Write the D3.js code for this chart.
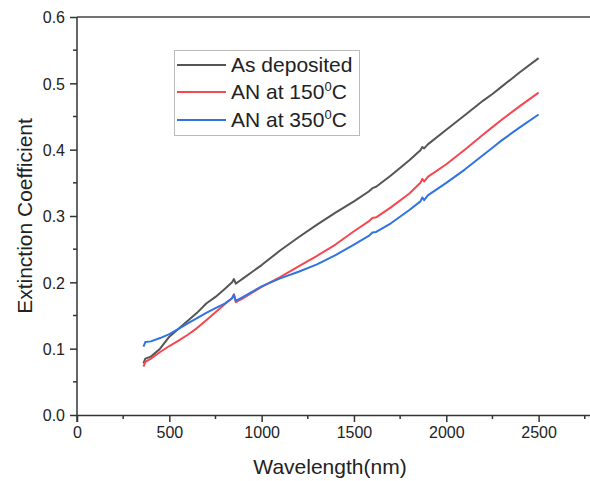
<!DOCTYPE html>
<html>
<head>
    <script src="https://cdnjs.cloudflare.com/ajax/libs/d3/7.8.5/d3.min.js"></script>
    <style>
        body { margin: 0; background: #fff; }
        svg text { font-family: "Liberation Sans", Arial, sans-serif; fill: #222; }
    </style>
</head>
<body>
<script>
// wavelength samples (nm)
const wavelengths = [360, 370, 400, 450, 500, 550, 600, 650, 700, 750, 800, 840, 850, 860, 880, 900,
    1000, 1100, 1200, 1300, 1400, 1500, 1580, 1600, 1620, 1700, 1800, 1860, 1870, 1880, 1900,
    2000, 2100, 2200, 2250, 2300, 2400, 2500];

const asDeposited = [0.078, 0.085, 0.088, 0.100, 0.118, 0.130, 0.142, 0.154, 0.168, 0.178, 0.190, 0.200, 0.205, 0.198, 0.202, 0.206,
    0.226, 0.248, 0.268, 0.287, 0.305, 0.322, 0.337, 0.342, 0.344, 0.361, 0.384, 0.399, 0.404, 0.402, 0.408,
    0.430, 0.452, 0.474, 0.484, 0.495, 0.517, 0.538];

const an150 = [0.073, 0.080, 0.085, 0.095, 0.104, 0.112, 0.121, 0.131, 0.143, 0.155, 0.167, 0.176, 0.182, 0.170, 0.173, 0.176,
    0.193, 0.208, 0.224, 0.240, 0.257, 0.277, 0.292, 0.297, 0.298, 0.313, 0.334, 0.350, 0.356, 0.352, 0.359,
    0.378, 0.400, 0.423, 0.434, 0.445, 0.466, 0.486];

const an350 = [0.103, 0.110, 0.111, 0.116, 0.122, 0.130, 0.138, 0.146, 0.154, 0.161, 0.168, 0.176, 0.181, 0.172, 0.175, 0.178,
    0.194, 0.206, 0.216, 0.227, 0.241, 0.257, 0.270, 0.275, 0.276, 0.289, 0.309, 0.322, 0.328, 0.324, 0.331,
    0.350, 0.370, 0.392, 0.403, 0.414, 0.434, 0.453];

const seriesNames = ["As deposited", "AN at 150", "AN at 350"];
const seriesColors = ["#555555", "#f5474f", "#2f74e2"];
const xTicks = [0, 500, 1000, 1500, 2000, 2500];
const yTicks = [0.0, 0.1, 0.2, 0.3, 0.4, 0.5, 0.6];

const width = 590, height = 481;
const svg = d3.select("body").append("svg")
    .attr("width", width)
    .attr("height", height);

const x = d3.scaleLinear().domain([0, 2800]).range([77, 594]);
const y = d3.scaleLinear().domain([0, 0.6]).range([415, 17]);

// minor ticks
const xMinor = d3.range(250, 2800, 500);
const yMinor = d3.range(0.05, 0.6, 0.1);

svg.append("g").selectAll("line").data(xMinor).join("line")
    .attr("x1", d => x(d)).attr("x2", d => x(d))
    .attr("y1", y(0)).attr("y2", y(0) + 4)
    .attr("stroke", "#333").attr("stroke-width", 1.5);
svg.append("g").selectAll("line").data(yMinor).join("line")
    .attr("x1", x(0) - 4).attr("x2", x(0))
    .attr("y1", d => y(d)).attr("y2", d => y(d))
    .attr("stroke", "#333").attr("stroke-width", 1.5);

// top frame line
svg.append("line")
    .attr("x1", x(0)).attr("x2", width)
    .attr("y1", y(0.6)).attr("y2", y(0.6))
    .attr("stroke", "#444").attr("stroke-width", 1.5);

const xAxis = svg.append("g")
    .attr("transform", `translate(0,${y(0)})`)
    .call(d3.axisBottom(x).tickValues(xTicks).tickFormat(d3.format("d")).tickSize(7).tickPadding(5).tickSizeOuter(0));
xAxis.selectAll("text").attr("font-size", 16);

const yAxis = svg.append("g")
    .attr("transform", `translate(${x(0)},0)`)
    .call(d3.axisLeft(y).tickValues(yTicks).tickFormat(d3.format(".1f")).tickSize(7).tickPadding(5).tickSizeOuter(0));
yAxis.selectAll("text").attr("font-size", 16).attr("dy", "0.36em");

[xAxis, yAxis].forEach(a => {
    a.select(".domain").attr("stroke", "#333").attr("stroke-width", 1.5);
    a.selectAll(".tick line").attr("stroke", "#333").attr("stroke-width", 1.5);
    a.selectAll("text").attr("fill", "#222").attr("font-family", "Liberation Sans, Arial, sans-serif");
});
yAxis.select(".domain").attr("d", `M0,${y(0) + 7}V${y(0.6)}`);

// axis titles
svg.append("text")
    .attr("x", 330).attr("y", 474)
    .attr("text-anchor", "middle")
    .attr("font-size", 21)
    .text("Wavelength(nm)");

svg.append("text")
    .attr("transform", `translate(32,${y(0.3)}) rotate(-90)`)
    .attr("text-anchor", "middle")
    .attr("font-size", 21)
    .text("Extinction Coefficient");

// lines
const allSeries = [asDeposited, an150, an350];
const line = d3.line()
    .x((d, i) => x(wavelengths[i]))
    .y(d => y(d));

svg.append("g").selectAll("path").data(allSeries).join("path")
    .attr("d", d => line(d))
    .attr("fill", "none")
    .attr("stroke", (d, i) => seriesColors[i])
    .attr("stroke-width", 2)
    .attr("stroke-linejoin", "round");

// legend
const legend = svg.append("g");
legend.append("rect")
    .attr("x", 174.5).attr("y", 50.5)
    .attr("width", 185).attr("height", 85)
    .attr("fill", "none").attr("stroke", "#bbb").attr("stroke-width", 1);

const rowY = [65, 92, 120];
seriesNames.forEach((name, i) => {
    legend.append("line")
        .attr("x1", 177).attr("x2", 226)
        .attr("y1", rowY[i]).attr("y2", rowY[i])
        .attr("stroke", seriesColors[i]).attr("stroke-width", 2);
    const t = legend.append("text")
        .attr("x", 231).attr("y", rowY[i] + 7)
        .attr("font-size", 21);
    t.append("tspan").text(name);
    if (i > 0) {
        t.append("tspan").attr("font-size", 13).attr("dy", -8).text("0");
        t.append("tspan").attr("dy", 8).text("C");
    }
});
</script>
</body>
</html>
